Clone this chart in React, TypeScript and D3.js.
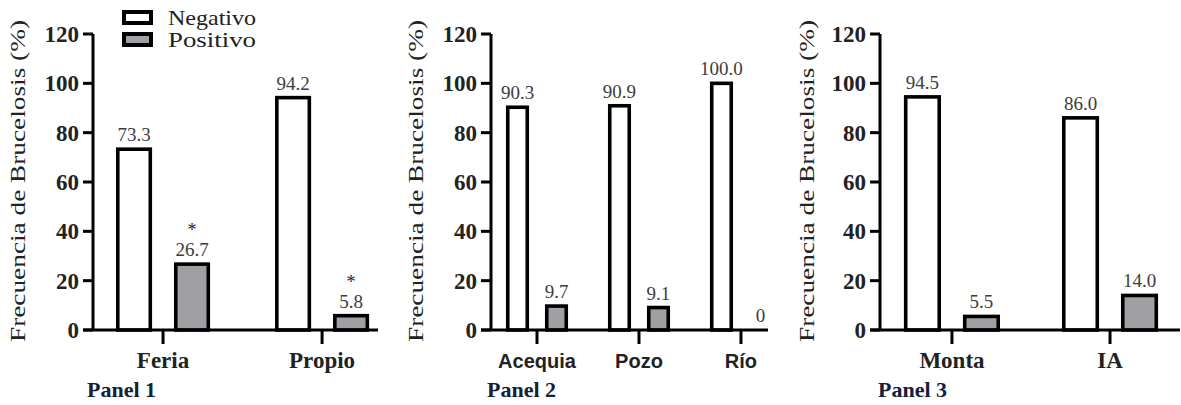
import React from "react";
import * as d3 from "d3";

const series = ["Negativo", "Positivo"];
const yTicks = [0, 20, 40, 60, 80, 100, 120];

const categories1 = ["Feria", "Propio"];
const negativo1 = [73.3, 94.2];
const positivo1 = [26.7, 5.8];
const marks1 = ["*", "*"];

const categories2 = ["Acequia", "Pozo", "Río"];
const negativo2 = [90.3, 90.9, 100.0];
const positivo2 = [9.7, 9.1, 0];
const marks2 = ["", "", ""];

const categories3 = ["Monta", "IA"];
const negativo3 = [94.5, 86.0];
const positivo3 = [5.5, 14.0];
const marks3 = ["", ""];

const fmt = (v: number) => (v === 0 ? "0" : v.toFixed(1));

const SERIF = "'Liberation Serif', 'Times New Roman', serif";
const SANS = "'Liberation Sans', Arial, sans-serif";

type PanelProps = {
  cats: string[];
  neg: number[];
  pos: number[];
  marks: string[];
  axisX: number;
  axisEnd: number;
  padding: number;
  align: number;
  half: number;
  barW: number;
  yLabelX: number;
  panelLabel: string;
  panelLabelX: number;
  catFont: string;
};

function Panel(p: PanelProps) {
  const y = d3.scaleLinear().domain([0, 120]).range([330, 34]);
  const x = d3
    .scalePoint<string>()
    .domain(p.cats)
    .range([p.axisX, p.axisEnd])
    .padding(p.padding)
    .align(p.align);
  const inner = d3.scalePoint<string>().domain(series).range([-p.half, p.half]);
  const tickLen = 10;
  const sw = 3.6;
  return (
    <g>
      <text
        transform={`translate(${p.yLabelX},${181}) rotate(-90)`}
        textAnchor="middle"
        fontFamily={SERIF}
        fontSize={21}
        fill="#222"
        textLength={322}
        lengthAdjust="spacingAndGlyphs"
      >
        Frecuencia de Brucelosis (%)
      </text>
      {p.cats.map((c, i) => {
        const vals = [p.neg[i], p.pos[i]];
        return (
          <g key={c}>
            {vals.map((v, j) => {
              const cx = (x(c) as number) + (inner(series[j]) as number);
              const top = y(v);
              return (
                <g key={j}>
                  {v > 0 && (
                    <rect
                      x={cx - p.barW / 2}
                      y={top}
                      width={p.barW}
                      height={y(0) - top}
                      fill={j === 0 ? "#ffffff" : "#a0a0a4"}
                      stroke="#000"
                      strokeWidth={sw}
                    />
                  )}
                  <text
                    x={cx}
                    y={top - 8}
                    textAnchor="middle"
                    fontFamily={SERIF}
                    fontSize={19}
                    fill="#3c3c3c"
                  >
                    {fmt(v)}
                  </text>
                  {j === 1 && p.marks[i] && (
                    <text
                      x={cx}
                      y={top - 28}
                      textAnchor="middle"
                      fontFamily={SERIF}
                      fontSize={18}
                      fill="#222"
                    >
                      {p.marks[i]}
                    </text>
                  )}
                </g>
              );
            })}
          </g>
        );
      })}
      <line x1={p.axisX} x2={p.axisX} y1={y(120)} y2={y(0)} stroke="#000" strokeWidth={3} />
      {yTicks.map((t) => (
        <g key={t}>
          <line
            x1={p.axisX - tickLen}
            x2={p.axisX}
            y1={y(t)}
            y2={y(t)}
            stroke="#000"
            strokeWidth={3}
          />
          <text
            x={p.axisX - tickLen - 4}
            y={y(t)}
            dy="0.35em"
            textAnchor="end"
            fontFamily={SERIF}
            fontWeight="bold"
            fontSize={23}
            fill="#222"
          >
            {t}
          </text>
        </g>
      ))}
      <line
        x1={p.axisX - tickLen}
        x2={p.axisEnd}
        y1={y(0)}
        y2={y(0)}
        stroke="#000"
        strokeWidth={3}
      />
      {p.cats.map((c) => (
        <g key={c}>
          <line
            x1={x(c)}
            x2={x(c)}
            y1={y(0)}
            y2={y(0) + 14}
            stroke="#000"
            strokeWidth={3}
          />
          <text
            x={x(c)}
            y={368}
            textAnchor="middle"
            fontFamily={p.catFont}
            fontWeight="bold"
            fontSize={p.catFont === SANS ? 20 : 23}
            fill="#222"
          >
            {c}
          </text>
        </g>
      ))}
      <text
        x={p.panelLabelX}
        y={397}
        fontFamily={SERIF}
        fontWeight="bold"
        fontSize={22}
        fill="#14203a"
      >
        {p.panelLabel}
      </text>
    </g>
  );
}

export default function App() {
  return (
    <svg
      width={1181}
      height={405}
      style={{ position: "absolute", left: 0, top: 0, background: "#fff" }}
    >
      <rect width={1181} height={405} fill="#fff" />
      <Panel
        cats={categories1}
        neg={negativo1}
        pos={positivo1}
        marks={marks1}
        axisX={93}
        axisEnd={378}
        padding={0.396}
        align={0.556}
        half={29}
        barW={32.5}
        yLabelX={25}
        panelLabel="Panel 1"
        panelLabelX={87}
        catFont={SERIF}
      />
      <Panel
        cats={categories2}
        neg={negativo2}
        pos={positivo2}
        marks={marks2}
        axisX={491}
        axisEnd={768}
        padding={0.358}
        align={0.63}
        half={19.5}
        barW={19.5}
        yLabelX={423}
        panelLabel="Panel 2"
        panelLabelX={487}
        catFont={SANS}
      />
      <Panel
        cats={categories3}
        neg={negativo3}
        pos={positivo3}
        marks={marks3}
        axisX={880}
        axisEnd={1180}
        padding={0.449}
        align={0.507}
        half={29.5}
        barW={33.5}
        yLabelX={814}
        panelLabel="Panel 3"
        panelLabelX={878}
        catFont={SERIF}
      />
      {series.map((s, i) => (
        <g key={s}>
          <rect
            x={124}
            y={12 + i * 22}
            width={27}
            height={11}
            fill={i === 0 ? "#fff" : "#a0a0a4"}
            stroke="#000"
            strokeWidth={4}
          />
          <text
            x={168}
            y={25 + i * 22}
            fontFamily={SERIF}
            fontSize={21}
            textLength={88}
            lengthAdjust="spacingAndGlyphs"
            fill="#222"
          >
            {s}
          </text>
        </g>
      ))}
    </svg>
  );
}
